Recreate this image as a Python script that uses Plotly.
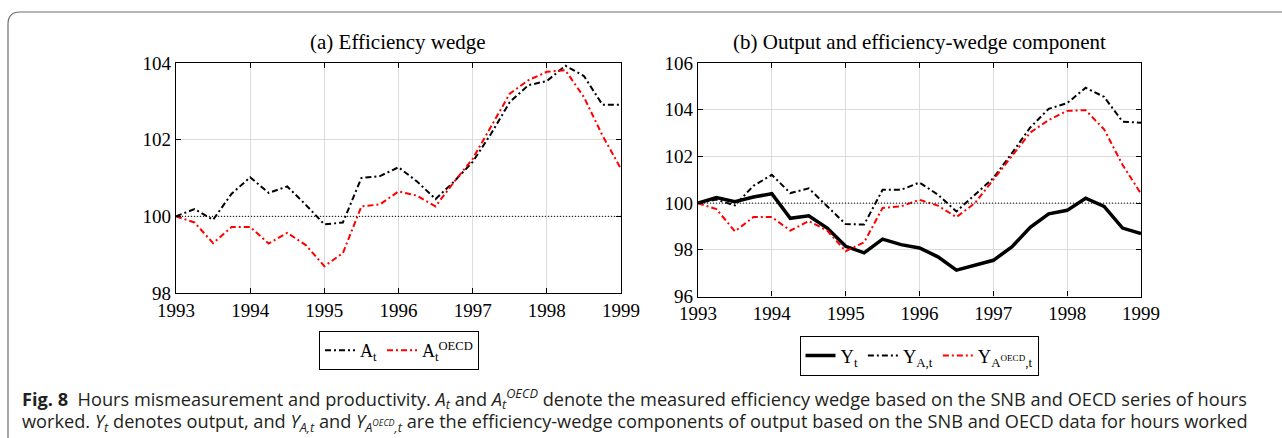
import plotly.graph_objects as go

W, H = 1282, 438

# quarterly observations 1993Q1 .. 1999Q1
quarters = [1993 + q / 4 for q in range(25)]

a_snb = [100.0, 100.19, 99.91, 100.59, 101.02, 100.61, 100.78, 100.30, 99.79, 99.84,
         101.0, 101.05, 101.28, 100.91, 100.45, 100.91, 101.42, 102.16, 102.98, 103.42,
         103.53, 103.93, 103.66, 102.91, 102.91]
a_oecd = [100.0, 99.84, 99.30, 99.72, 99.72, 99.29, 99.57, 99.25, 98.70, 99.04,
          100.26, 100.31, 100.65, 100.54, 100.26, 100.90, 101.50, 102.37, 103.20, 103.55,
          103.77, 103.81, 103.11, 102.11, 101.24]

y_out = [100.0, 100.24, 100.06, 100.26, 100.40, 99.35, 99.46, 98.93, 98.15, 97.87,
         98.46, 98.22, 98.08, 97.70, 97.13, 97.33, 97.55, 98.12, 98.96, 99.54,
         99.69, 100.21, 99.86, 98.93, 98.69]
y_a = [100.0, 100.15, 99.90, 100.74, 101.21, 100.43, 100.63, 99.86, 99.10, 99.08,
       100.57, 100.57, 100.88, 100.36, 99.64, 100.36, 101.07, 102.13, 103.24, 104.04,
       104.28, 104.94, 104.55, 103.49, 103.44]
y_a_oecd = [100.0, 99.74, 98.79, 99.40, 99.40, 98.82, 99.23, 98.82, 97.94, 98.32,
            99.79, 99.86, 100.14, 99.89, 99.40, 100.0, 101.0, 101.99, 103.02, 103.56,
            103.95, 103.98, 103.16, 101.64, 100.40]

year_ticks = [1993, 1994, 1995, 1996, 1997, 1998, 1999]
left_ticks = [98, 100, 102, 104]
right_ticks = [96, 98, 100, 102, 104, 106]


def px(x):
    return x / W


def py(y):
    return 1 - y / H


SERIF = "Liberation Serif, Times New Roman, serif"
SANS = "Open Sans, Noto Sans, sans-serif"
DASHDOT = "6px,3px,2px,3px"

fig = go.Figure()

# (a) efficiency wedge
fig.add_trace(go.Scatter(x=quarters, y=a_snb, mode="lines", name="A<sub>t</sub>",
                         line=dict(color="black", width=2, dash=DASHDOT),
                         xaxis="x", yaxis="y", legend="legend"))
fig.add_trace(go.Scatter(x=quarters, y=a_oecd, mode="lines", name="A<sub>t</sub><sup>OECD</sup>",
                         line=dict(color="#ff0000", width=2, dash=DASHDOT),
                         xaxis="x", yaxis="y", legend="legend"))

# (b) output and efficiency-wedge component
fig.add_trace(go.Scatter(x=quarters, y=y_out, mode="lines", name="Y<sub>t</sub>",
                         line=dict(color="black", width=3.5),
                         xaxis="x2", yaxis="y2", legend="legend2"))
fig.add_trace(go.Scatter(x=quarters, y=y_a, mode="lines", name="Y<sub>A,t</sub>",
                         line=dict(color="black", width=2, dash=DASHDOT),
                         xaxis="x2", yaxis="y2", legend="legend2"))
fig.add_trace(go.Scatter(x=quarters, y=y_a_oecd, mode="lines",
                         name="Y<sub>A<sup>OECD</sup>,t</sub>",
                         line=dict(color="#ff0000", width=2, dash=DASHDOT),
                         xaxis="x2", yaxis="y2", legend="legend2"))

axis_common = dict(showline=True, linecolor="black", linewidth=1.3, mirror="ticks",
                   ticks="inside", ticklen=5, tickcolor="black",
                   showgrid=True, gridcolor="#dcdcdc", gridwidth=1, zeroline=False,
                   tickfont=dict(family=SERIF, size=19, color="black"))

fig.update_layout(
    width=W, height=H, autosize=False,
    margin=dict(l=0, r=0, t=0, b=0, pad=0, autoexpand=False),
    paper_bgcolor="white", plot_bgcolor="white",
    xaxis=dict(domain=[px(176), px(621)], range=[1993, 1999], tickvals=year_ticks,
               anchor="y", **axis_common),
    yaxis=dict(domain=[py(293), py(63)], range=[98, 104], tickvals=left_ticks,
               anchor="x", **axis_common),
    xaxis2=dict(domain=[px(698), px(1141)], range=[1993, 1999], tickvals=year_ticks,
                anchor="y2", **axis_common),
    yaxis2=dict(domain=[py(296.5), py(63)], range=[96, 106], tickvals=right_ticks,
                anchor="x2", **axis_common),
    legend=dict(orientation="h", x=px(399), y=py(331), xanchor="center", yanchor="top",
                bordercolor="black", borderwidth=1, bgcolor="white",
                font=dict(family=SERIF, size=18, color="black"),
                itemwidth=30, tracegroupgap=0),
    legend2=dict(orientation="h", x=px(919), y=py(336), xanchor="center", yanchor="top",
                 bordercolor="black", borderwidth=1, bgcolor="white",
                 font=dict(family=SERIF, size=18.5, color="black"),
                 itemwidth=30, tracegroupgap=0),
)

# dotted reference line at 100
for xr, yr in [("x", "y"), ("x2", "y2")]:
    fig.add_shape(type="line", xref=xr + " domain", yref=yr, x0=0, x1=1, y0=100, y1=100,
                  line=dict(color="black", width=1, dash="1px,2px"))

# panel titles
fig.add_annotation(text="(a) Efficiency wedge", xref="paper", yref="paper",
                   x=px(398), y=py(42), xanchor="center", yanchor="middle", showarrow=False,
                   font=dict(family=SERIF, size=21, color="black"))
fig.add_annotation(text="(b) Output and efficiency-wedge component", xref="paper", yref="paper",
                   x=px(919), y=py(42), xanchor="center", yanchor="middle", showarrow=False,
                   font=dict(family=SERIF, size=21, color="black"))

# caption
cap1 = ("<b>Fig. 8</b>  Hours mismeasurement and productivity. <i>A<sub>t</sub></i> and "
        "<i>A<sub>t</sub><sup>OECD</sup></i> denote the measured efficiency wedge based on "
        "the SNB and OECD series of hours")
cap2 = ("worked. <i>Y<sub>t</sub></i> denotes output, and <i>Y<sub>A,t</sub></i> and "
        "<i>Y<sub>A<sup>OECD</sup>,t</sub></i> are the efficiency-wedge components of output "
        "based on the SNB and OECD data for hours worked")
fig.add_annotation(text=cap1, xref="paper", yref="paper", x=px(20), y=py(398),
                   xanchor="left", yanchor="middle", showarrow=False,
                   font=dict(family=SANS, size=18.2, color="#231f20"))
fig.add_annotation(text=cap2, xref="paper", yref="paper", x=px(20), y=py(422),
                   xanchor="left", yanchor="middle", showarrow=False,
                   font=dict(family=SANS, size=18.2, color="#231f20"))

# outer frame with rounded top-left corner
r = 12
x0, y0 = 8, 12
frame = (f"M {px(x0)},{py(H + 5)} L {px(x0)},{py(y0 + r)} "
         f"Q {px(x0)},{py(y0)} {px(x0 + r)},{py(y0)} L {px(W + 5)},{py(y0)}")
fig.add_shape(type="path", xref="paper", yref="paper", path=frame,
              line=dict(color="#6d6e71", width=1.2))

fig.write_html("out.html", config={"displayModeBar": False},
               post_script="document.body.style.margin='0';document.body.style.overflow='hidden';")
